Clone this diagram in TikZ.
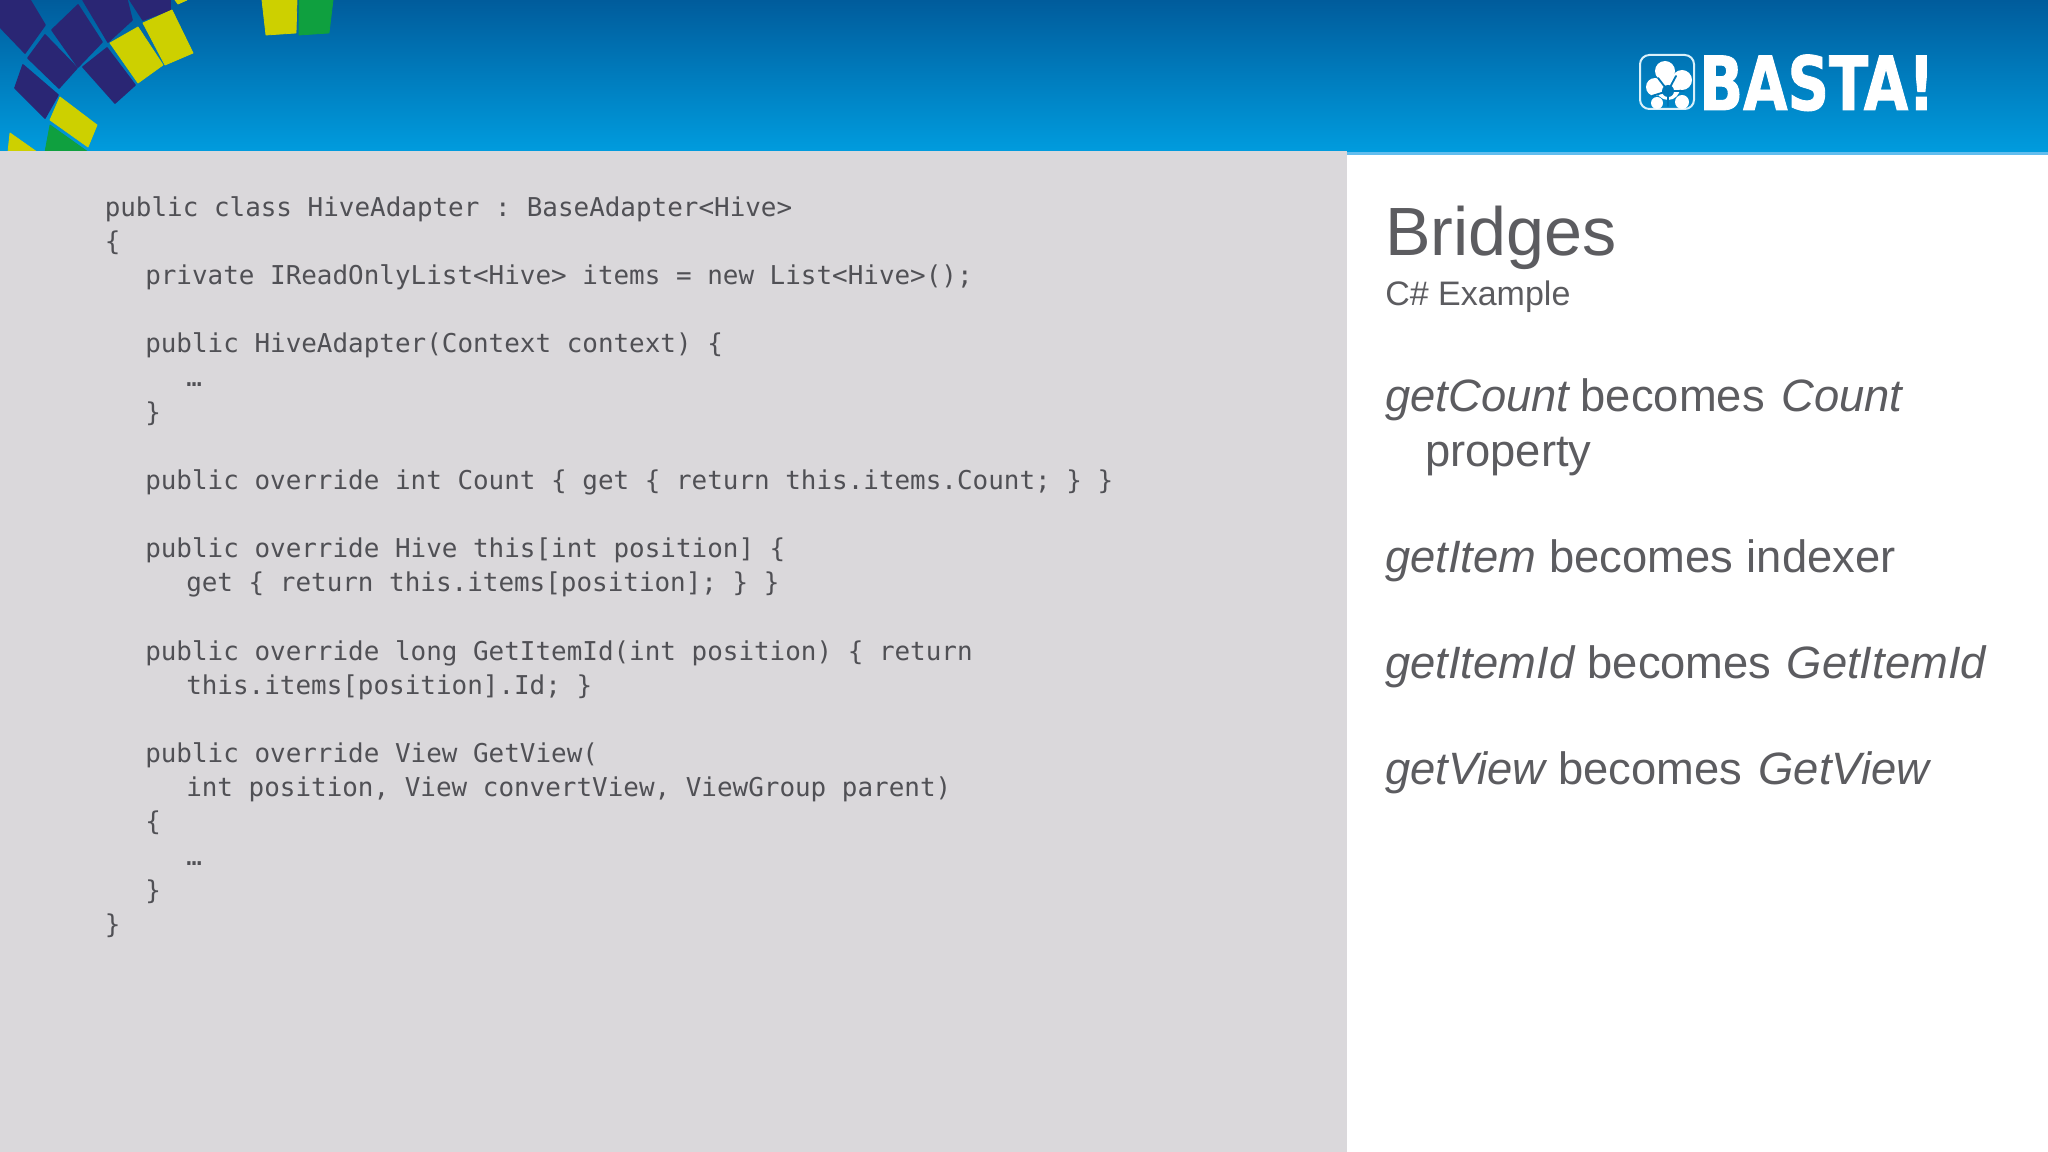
\documentclass[tikz,border=0pt]{standalone}
\usepackage{fontspec}
\setmainfont{Liberation Sans}
\newfontfamily\codefont{DejaVu Sans Mono}
\newfontfamily\logofont[FakeStretch=0.77,FakeBold=1.2]{DejaVu Sans Bold}
\definecolor{panelgray}{HTML}{DAD8DB}
\definecolor{codegray}{HTML}{505055}
\definecolor{textgray}{HTML}{5C5C60}
\definecolor{headtop}{HTML}{005C9C}
\definecolor{headbot}{HTML}{009CDE}
\definecolor{headline}{HTML}{62BDEE}
\definecolor{navy}{HTML}{2A2674}
\definecolor{mosyellow}{HTML}{CDD000}
\definecolor{mosgreen}{HTML}{0FA03F}
\tikzset{
  code/.style={anchor=base west,inner sep=0pt,text=codegray,font=\codefont\fontsize{19.45}{24}\selectfont},
  title/.style={anchor=base west,inner sep=0pt,text=textgray,font=\fontsize{51.2}{60}\selectfont},
  subtitle/.style={anchor=base west,inner sep=0pt,text=textgray,font=\fontsize{25.5}{30}\selectfont},
  bullet/.style={anchor=base west,inner sep=0pt,text=textgray,font=\fontsize{34}{40}\selectfont},
  mosn/.style={fill=navy,draw=navy,line width=1.2pt,line join=round},
  mosy/.style={fill=mosyellow,draw=mosyellow,line width=0.6pt,line join=round},
  mosg/.style={fill=mosgreen,draw=mosgreen,line width=0.6pt,line join=round},
  spike/.style={draw=headtop!60!headbot,line width=1.4pt,line cap=round},
}
\begin{document}
\begin{tikzpicture}[x=0.75pt,y=-0.75pt]
\useasboundingbox (0,0) rectangle (2048,1152);
\fill[white] (0,0) rectangle (2048,1152);
% header
\shade[top color=headtop,bottom color=headbot] (0,0) rectangle (2048,152);
\fill[headline] (0,152) rectangle (2048,155);
% mosaic
\begin{scope}
\clip (0,1) rectangle (2048,151);
\path[mosn] (0,0)--(30,0)--(45,25)--(25,53)--(1,28)--cycle;
\path[mosn] (78,5)--(102,42)--(78,67)--(52,30)--cycle;
\path[mosn] (83,0)--(127,0)--(132,20)--(108,42)--cycle;
\path[mosn] (45,35)--(77,68)--(59,88)--(28,58)--cycle;
\path[mosn] (23,65)--(58,95)--(45,118)--(15,88)--cycle;
\path[mosn] (107,48)--(135,85)--(115,103)--(83,67)--cycle;
\path[mosn] (130,0)--(170,0)--(170,10)--(143,20)--cycle;
\path[mosy] (138,27)--(163,65)--(138,83)--(110,43)--cycle;
\path[mosy] (172,10)--(193,53)--(165,65)--(143,23)--cycle;
\path[mosg] (50,125)--(88,152)--(45,152)--cycle;
\path[mosy] (60,97)--(97,125)--(88,147)--(50,120)--cycle;
\path[mosy] (10,133)--(37,152)--(8,152)--cycle;
\path[mosy] (175,0)--(187,0)--(178,4)--cycle;
\path[mosy] (262,0)--(297,0)--(296,33)--(266,35)--cycle;
\path[mosg] (299,0)--(333,0)--(329,33)--(299,35)--cycle;
\end{scope}
% panel
\fill[panelgray] (0,151) rectangle (1347,1152);
% logo
\draw[white!85!headbot,line width=1.5pt,rounded corners=7pt] (1640,55) rectangle (1694,109);
\fill[white] (1665,71) circle[radius=10];
\fill[white] (1655,87) circle[radius=9];
\fill[white] (1682,80) circle[radius=10];
\fill[white] (1657,103) circle[radius=6];
\fill[white] (1682,102) circle[radius=7];
\fill[white] (1668,88) circle[radius=12];
\fill[headtop!55!headbot] (1668,91) circle[radius=6];
\draw[spike] (1668,91) -- (1668,106);
\draw[spike] (1668,91) -- (1652,96);
\draw[spike] (1668,91) -- (1684,91);
\draw[spike] (1668,91) -- (1676,76);
\draw[spike] (1668,91) -- (1658,78);
\node[anchor=base west,inner sep=0pt,text=white,font=\logofont\fontsize{56}{60}\selectfont] (logo) at (1699,110) {BASTA!};
% code
\node[code] (c0) at (104.5,216) {public class HiveAdapter :\kern-3.5pt{} BaseAdapter<Hive>};
\node[code] (c1) at (104.5,250.2) {\{};
\node[code] (c2) at (145,284.3) {private IReadOnlyList<Hive> items = new List<Hive>();};
\node[code] (c4) at (145,352.6) {public HiveAdapter(Context context) \{};
\node[code] (c5) at (186,386.8) {…};
\node[code] (c6) at (145,421) {\}};
\node[code] (c8) at (145,489.3) {public override int Count \{ get \{ return this.items.Count; \} \}};
\node[code] (c10) at (145,557.6) {public override Hive this[int position] \{};
\node[code] (c11) at (186,591.8) {get \{ return this.items[position]; \} \}};
\node[code] (c13) at (145,660.1) {public override long GetItemId(int position) \{ return};
\node[code] (c14) at (186,694.2) {this.items[position].Id; \}};
\node[code] (c16) at (145,762.6) {public override View GetView(};
\node[code] (c17) at (186,796.7) {int position, View convertView, ViewGroup parent)};
\node[code] (c18) at (145,830.9) {\{};
\node[code] (c19) at (186,865) {…};
\node[code] (c20) at (145,899.2) {\}};
\node[code] (c21) at (104.5,933.4) {\}};
% right column
\node[title] (title) at (1385,255) {Bridges};
\node[subtitle] (sub) at (1385,305) {C\# Example};
\node[bullet] (b1) at (1385,411) {\textit{getCount}\kern-2pt{} becomes\kern3pt{} \textit{Count}};
\node[bullet] (b1b) at (1425,466) {property};
\node[bullet] (b2) at (1385,572) {\textit{getItem} becomes\kern1pt{} indexer};
\node[bullet] (b3) at (1385,678) {\textit{getItemId}\kern-0.3pt{} becomes\kern2pt{} \textit{GetItemId}};
\node[bullet] (b4) at (1385,784) {\textit{getView}\kern-2pt{} becomes\kern3pt{} \textit{GetView}};
\end{tikzpicture}
\end{document}
